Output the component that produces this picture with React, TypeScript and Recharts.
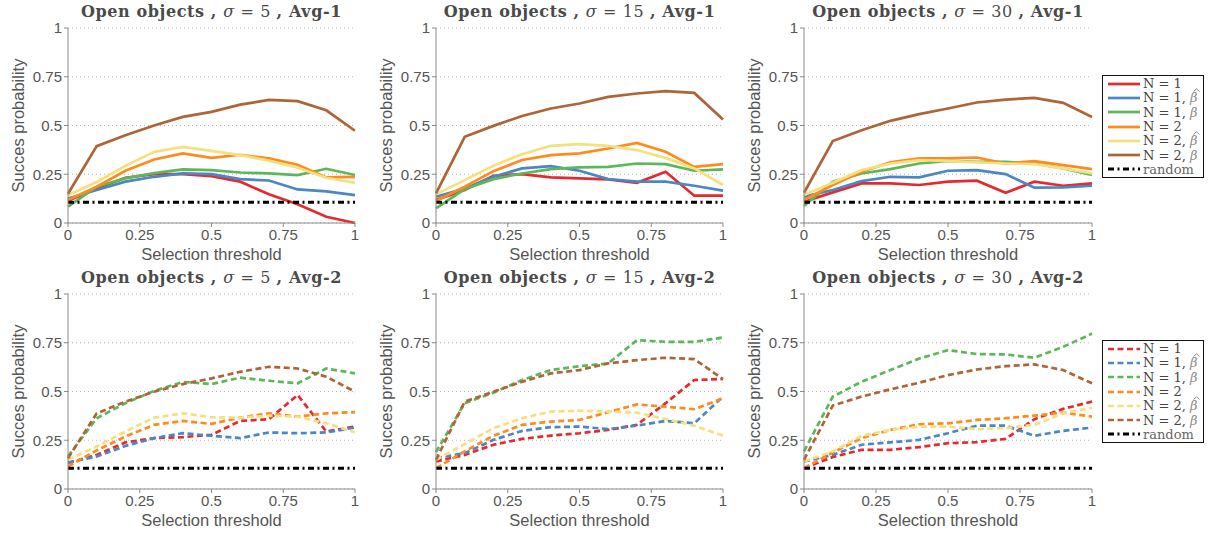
import { CartesianGrid, Line, LineChart, XAxis, YAxis } from "recharts";

const thresholds = [0, 0.1, 0.2, 0.3, 0.4, 0.5, 0.6, 0.7, 0.8, 0.9, 1];
const axisTicks = [0, 0.25, 0.5, 0.75, 1];
const randomChance = 0.107;

const seriesNames = ["N = 1", "N = 1, ", "N = 1, ", "N = 2", "N = 2, ", "N = 2, "];
// "hat" = β̂ (estimated), "plain" = β
const seriesBeta = ["", "hat", "plain", "", "hat", "plain"];
const seriesColors = ["#e52a2d", "#4a87c4", "#5db75a", "#ff8a1d", "#f4e07e", "#af6438"];

// each row follows seriesNames: N=1, N=1 β̂, N=1 β, N=2, N=2 β̂, N=2 β
const sigma5Avg1 = [
  [0.114, 0.177, 0.232, 0.251, 0.251, 0.24, 0.212, 0.147, 0.096, 0.032, 0.0],
  [0.126, 0.169, 0.212, 0.237, 0.254, 0.251, 0.225, 0.218, 0.172, 0.162, 0.143],
  [0.084, 0.186, 0.229, 0.256, 0.275, 0.271, 0.259, 0.254, 0.246, 0.278, 0.246],
  [0.118, 0.186, 0.268, 0.326, 0.357, 0.334, 0.35, 0.331, 0.299, 0.234, 0.237],
  [0.143, 0.21, 0.293, 0.365, 0.39, 0.37, 0.348, 0.32, 0.283, 0.232, 0.206],
  [0.15, 0.394, 0.45, 0.5, 0.544, 0.57, 0.607, 0.631, 0.625, 0.578, 0.473],
];

const sigma15Avg1 = [
  [0.118, 0.169, 0.242, 0.251, 0.234, 0.229, 0.224, 0.206, 0.263, 0.14, 0.14],
  [0.135, 0.177, 0.237, 0.28, 0.292, 0.268, 0.225, 0.212, 0.212, 0.191, 0.166],
  [0.075, 0.174, 0.225, 0.254, 0.276, 0.285, 0.288, 0.305, 0.302, 0.268, 0.275],
  [0.113, 0.186, 0.266, 0.323, 0.348, 0.357, 0.382, 0.411, 0.365, 0.288, 0.302],
  [0.147, 0.22, 0.294, 0.353, 0.396, 0.404, 0.396, 0.374, 0.334, 0.28, 0.195],
  [0.152, 0.442, 0.498, 0.549, 0.587, 0.613, 0.647, 0.664, 0.676, 0.667, 0.531],
];

const sigma30Avg1 = [
  [0.109, 0.157, 0.203, 0.203, 0.195, 0.212, 0.217, 0.155, 0.212, 0.191, 0.203],
  [0.135, 0.169, 0.215, 0.237, 0.234, 0.268, 0.271, 0.251, 0.181, 0.183, 0.191],
  [0.087, 0.212, 0.254, 0.276, 0.305, 0.319, 0.314, 0.314, 0.305, 0.28, 0.246],
  [0.118, 0.195, 0.263, 0.311, 0.331, 0.331, 0.336, 0.305, 0.317, 0.297, 0.276],
  [0.143, 0.206, 0.271, 0.305, 0.322, 0.319, 0.311, 0.305, 0.302, 0.28, 0.254],
  [0.155, 0.42, 0.476, 0.524, 0.558, 0.587, 0.618, 0.633, 0.642, 0.616, 0.544],
];

const sigma5Avg2 = [
  [0.133, 0.175, 0.239, 0.261, 0.266, 0.278, 0.349, 0.358, 0.482, 0.295, 0.32],
  [0.136, 0.167, 0.221, 0.261, 0.286, 0.273, 0.261, 0.29, 0.286, 0.29, 0.315],
  [0.167, 0.363, 0.44, 0.503, 0.549, 0.538, 0.571, 0.555, 0.542, 0.618, 0.593],
  [0.116, 0.198, 0.269, 0.329, 0.349, 0.334, 0.366, 0.388, 0.371, 0.388, 0.394],
  [0.15, 0.218, 0.295, 0.366, 0.388, 0.368, 0.366, 0.376, 0.371, 0.337, 0.291],
  [0.158, 0.388, 0.448, 0.499, 0.538, 0.567, 0.601, 0.627, 0.618, 0.576, 0.499],
];

const sigma15Avg2 = [
  [0.141, 0.175, 0.227, 0.257, 0.274, 0.286, 0.303, 0.329, 0.44, 0.559, 0.564],
  [0.158, 0.184, 0.252, 0.298, 0.317, 0.32, 0.307, 0.325, 0.349, 0.337, 0.474],
  [0.189, 0.44, 0.494, 0.559, 0.61, 0.63, 0.644, 0.763, 0.755, 0.755, 0.777],
  [0.107, 0.193, 0.273, 0.329, 0.346, 0.354, 0.394, 0.434, 0.422, 0.409, 0.465],
  [0.15, 0.23, 0.312, 0.363, 0.397, 0.402, 0.397, 0.392, 0.358, 0.324, 0.274],
  [0.15, 0.448, 0.499, 0.55, 0.593, 0.61, 0.644, 0.661, 0.673, 0.666, 0.564],
];

const sigma30Avg2 = [
  [0.107, 0.164, 0.201, 0.201, 0.215, 0.235, 0.24, 0.257, 0.358, 0.411, 0.448],
  [0.141, 0.175, 0.227, 0.239, 0.252, 0.286, 0.325, 0.325, 0.273, 0.298, 0.315],
  [0.193, 0.474, 0.55, 0.61, 0.669, 0.712, 0.692, 0.69, 0.673, 0.729, 0.797],
  [0.107, 0.187, 0.261, 0.303, 0.332, 0.337, 0.354, 0.363, 0.376, 0.392, 0.371],
  [0.141, 0.193, 0.273, 0.303, 0.32, 0.32, 0.307, 0.312, 0.329, 0.388, 0.417],
  [0.15, 0.428, 0.474, 0.511, 0.545, 0.584, 0.613, 0.63, 0.639, 0.61, 0.542],
];

const SANS = "'Liberation Sans', Arial, sans-serif";
const SERIF = "'DejaVu Serif', 'Liberation Serif', serif";
const AXIS_GRAY = "#8a8a8a";
const TEXT_GRAY = "#555";
const DASH = "6 3.5";
const DASH_DOT = "6 3.5 2 3.5";

const PLOT_TOP = 28;
const PLOT_H = 195;
const Y_AXIS_W = 68;
const X_AXIS_H = 42;

function buildRows(values: number[][]) {
  return thresholds.map((t, i) => {
    const row: Record<string, number> = { t, random: randomChance };
    values.forEach((s, k) => {
      row[`s${k}`] = s[i];
    });
    return row;
  });
}

// italic beta, with a small drawn circumflex for the estimated variant
function Beta({ hat }: { hat: boolean }) {
  return (
    <span style={{ position: "relative", display: "inline-block", fontStyle: "italic", color: "#8a8a8a" }}>
      β
      {hat && (
        <svg width={7} height={4} style={{ position: "absolute", left: 2.5, top: -3 }}>
          <polyline points="0.5,3.5 3.5,0.8 6.5,3.5" fill="none" stroke="#8a8a8a" strokeWidth={1} />
        </svg>
      )}
    </span>
  );
}

interface PanelProps {
  sigma: number;
  avg: string;
  values: number[][];
  dashed: boolean;
  left: number;
  top: number;
  plotWidth: number;
}

function Panel({ sigma, avg, values, dashed, left, top, plotWidth }: PanelProps) {
  const data = buildRows(values);
  const width = Y_AXIS_W + plotWidth + 14;
  const height = PLOT_TOP + PLOT_H + X_AXIS_H;
  return (
    <div style={{ position: "absolute", left, top, width, height }}>
      <div
        style={{
          position: "absolute",
          left: Y_AXIS_W - 30,
          width: plotWidth + 60,
          top: 2,
          textAlign: "center",
          fontFamily: SERIF,
          fontSize: 16,
          letterSpacing: 0.6,
          color: "#4a4a4a",
          whiteSpace: "nowrap",
        }}
      >
        <b>Open objects , </b>
        <i>σ</i> = {sigma} <b>, Avg-{avg}</b>
      </div>
      <LineChart
        width={width}
        height={height}
        data={data}
        margin={{ top: PLOT_TOP, right: 14, bottom: 0, left: 0 }}
      >
        <CartesianGrid vertical={false} stroke="#b5b5b5" strokeDasharray="1 3" />
        <XAxis
          type="number"
          dataKey="t"
          domain={[0, 1]}
          ticks={axisTicks}
          interval={0}
          height={X_AXIS_H}
          tickSize={4}
          stroke={AXIS_GRAY}
          tick={{ fill: TEXT_GRAY, fontSize: 15, fontFamily: SANS }}
          label={{
            value: "Selection threshold",
            position: "insideBottom",
            offset: 5,
            style: { fill: TEXT_GRAY, fontSize: 16.5, fontFamily: SANS },
          }}
        />
        <YAxis
          type="number"
          domain={[0, 1]}
          ticks={axisTicks}
          interval={0}
          width={Y_AXIS_W}
          tickSize={4}
          stroke={AXIS_GRAY}
          tick={{ fill: TEXT_GRAY, fontSize: 15, fontFamily: SANS }}
          label={{
            value: "Succes probability",
            angle: -90,
            position: "center",
            dx: -16,
            style: { fill: TEXT_GRAY, fontSize: 16.5, fontFamily: SANS, textAnchor: "middle" },
          }}
        />
        {seriesColors.map((c, k) => (
          <Line
            key={k}
            type="linear"
            dataKey={`s${k}`}
            stroke={c}
            strokeWidth={2.7}
            strokeDasharray={dashed ? DASH : undefined}
            dot={false}
            isAnimationActive={false}
          />
        ))}
        <Line
          type="linear"
          dataKey="random"
          stroke="#000"
          strokeWidth={3}
          strokeDasharray={DASH_DOT}
          dot={false}
          isAnimationActive={false}
        />
      </LineChart>
    </div>
  );
}

function SeriesLegend({ top, dashed }: { top: number; dashed: boolean }) {
  const rows = [
    ...seriesNames.map((n, k) => ({ name: n, beta: seriesBeta[k], color: seriesColors[k], dash: dashed ? DASH : undefined, w: 2.7 })),
    { name: "random", beta: "", color: "#000", dash: DASH_DOT, w: 3 },
  ];
  return (
    <div
      style={{
        position: "absolute",
        left: 1102,
        top,
        width: 102,
        height: 103,
        boxSizing: "border-box",
        border: "1.5px solid #111",
        background: "#fff",
        paddingTop: 0.5,
      }}
    >
      {rows.map((r, i) => (
        <div key={i} style={{ display: "flex", alignItems: "center", height: 14.3 }}>
          <svg width={40} height={8} style={{ flex: "none" }}>
            <line x1={5} x2={37} y1={4} y2={4} stroke={r.color} strokeWidth={r.w} strokeDasharray={r.dash} />
          </svg>
          <span
            style={{
              fontFamily: SERIF,
              fontSize: 13,
              color: r.name === "random" ? "#666" : "#444",
              whiteSpace: "nowrap",
              lineHeight: 1,
            }}
          >
            {r.name}
            {r.beta && <Beta hat={r.beta === "hat"} />}
          </span>
        </div>
      ))}
    </div>
  );
}

export default function App() {
  return (
    <div style={{ position: "absolute", left: 0, top: 0, width: 1213, height: 536, background: "#fff", overflow: "hidden" }}>
      <Panel sigma={5} avg="1" values={sigma5Avg1} dashed={false} left={0} top={0} plotWidth={287} />
      <Panel sigma={15} avg="1" values={sigma15Avg1} dashed={false} left={368} top={0} plotWidth={287} />
      <Panel sigma={30} avg="1" values={sigma30Avg1} dashed={false} left={736} top={0} plotWidth={288} />
      <Panel sigma={5} avg="2" values={sigma5Avg2} dashed left={0} top={266} plotWidth={287} />
      <Panel sigma={15} avg="2" values={sigma15Avg2} dashed left={368} top={266} plotWidth={287} />
      <Panel sigma={30} avg="2" values={sigma30Avg2} dashed left={736} top={266} plotWidth={288} />
      <SeriesLegend top={75} dashed={false} />
      <SeriesLegend top={340} dashed />
    </div>
  );
}
